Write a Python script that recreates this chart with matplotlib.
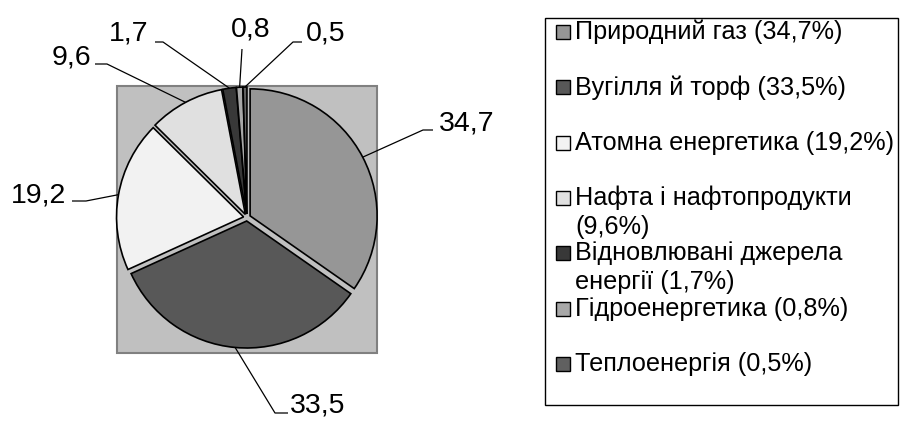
import matplotlib
matplotlib.use('Agg')
import matplotlib.pyplot as plt
from matplotlib.patches import Rectangle
import numpy as np
import textwrap

categories = ["Природний газ", "Вугілля й торф", "Атомна енергетика",
              "Нафта і нафтопродукти", "Відновлювані джерела енергії",
              "Гідроенергетика", "Теплоенергія"]
values = [34.7, 33.5, 19.2, 9.6, 1.7, 0.8, 0.5]
colors = ["#969696", "#585858", "#f2f2f2", "#e0e0e0", "#383838", "#a8a8a8", "#606060"]

plt.rcParams['font.family'] = ['Liberation Sans', 'DejaVu Sans']

W, H = 900, 421
fig = plt.figure(figsize=(9, 4.21), dpi=100)
ax = fig.add_axes([0, 0, 1, 1])

# gray plot area
ax.add_patch(Rectangle((117, 86), 260, 267, facecolor='#c0c0c0',
                       edgecolor='#808080', linewidth=1.5, zorder=0))

center = (247, 217.5)
radius = 127
wedges, _ = ax.pie(values, colors=colors, startangle=-90, counterclock=True,
                   center=center, radius=radius, explode=[3.5] * len(values),
                   wedgeprops=dict(edgecolor='black', linewidth=1.2), frame=True)
ax.set_xlim(0, W)
ax.set_ylim(H, 0)
ax.set_aspect('auto')
ax.axis('off')

fmt = lambda v: f"{v:.1f}".replace('.', ',')

# leader line layout (image pixel coords)
elbows = [(423, 130), (275, 413), (86, 201), (107, 64), (163, 42), (242, 49), (293, 42)]
ends = [(433, 130), (288, 413), (72, 201), (95, 64), (155, 42), (242, 49), (302, 42)]
text_pos = [(439, 130, 'left'), (290, 413, 'left'), (66, 202, 'right'),
            (91, 64, 'right'), (148, 41, 'right'), (251, 36, 'center'),
            (306, 40, 'left')]

for w, v, el, en, tp in zip(wedges, values, elbows, ends, text_pos):
    th = np.deg2rad((w.theta1 + w.theta2) / 2)
    cx, cy = w.center
    sx, sy = cx + w.r * np.cos(th), cy + w.r * np.sin(th)
    ax.plot([sx, el[0], en[0]], [sy, el[1], en[1]], color='black',
            linewidth=0.9, solid_capstyle='butt', zorder=5)
    ax.text(tp[0], tp[1], fmt(v), ha=tp[2], va='baseline', fontsize=20.5, zorder=6)

# legend
ax.add_patch(Rectangle((545, 18), 353, 387, facecolor='white',
                       edgecolor='black', linewidth=1.0, zorder=1))
row_y = np.linspace(32, 364, len(categories))
for name, v, c, y in zip(categories, values, colors, row_y):
    ax.add_patch(Rectangle((556, y - 7), 14, 14, facecolor=c,
                           edgecolor='black', linewidth=1.0, zorder=2))
    lines = textwrap.wrap(f"{name} ({fmt(v)}%)", width=25)
    for k, line in enumerate(lines):
        ax.text(575, y + 29 * k, line, ha='left', va='center', fontsize=18.2, zorder=3)

fig.savefig('out.png', dpi=100)
